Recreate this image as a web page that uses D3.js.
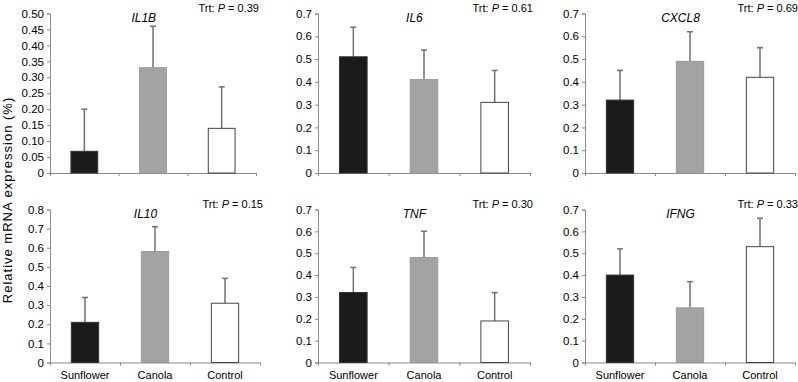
<!DOCTYPE html>
<html>
<head>
<meta charset="utf-8">
<script src="https://cdn.jsdelivr.net/npm/d3@7"></script>
<style>
  body { margin: 0; background: #fff; }
  text { font-family: "Liberation Sans", Arial, sans-serif; fill: #000; }
</style>
</head>
<body>
<svg id="chart" width="798" height="382"></svg>
<script>
// data
const treatments = ["Sunflower", "Canola", "Control"];
const genes = ["IL1B", "IL6", "CXCL8", "IL10", "TNF", "IFNG"];
const pValues = ["0.39", "0.61", "0.69", "0.15", "0.30", "0.33"];
const yMax = [0.5, 0.7, 0.7, 0.8, 0.7, 0.7];
const yStep = [0.05, 0.1, 0.1, 0.1, 0.1, 0.1];
const means = [
  [0.068, 0.33, 0.14],
  [0.51, 0.41, 0.31],
  [0.32, 0.49, 0.42],
  [0.21, 0.58, 0.31],
  [0.32, 0.48, 0.19],
  [0.40, 0.25, 0.53]
];
const upper = [
  [0.20, 0.46, 0.27],
  [0.64, 0.54, 0.45],
  [0.45, 0.62, 0.55],
  [0.34, 0.71, 0.44],
  [0.435, 0.60, 0.32],
  [0.52, 0.37, 0.66]
];

const fills = ["#1b1b1b", "#a3a3a3", "#ffffff"];
const strokes = ["#333", "#9a9a9a", "#444"];
const axisColor = "#8a8a8a";

// panel boxes
const cols = [[50, 256], [318, 530], [585, 795]];
const colsBottom = [[50, 260], [318, 530], [585, 795]];
const rows = [[13.5, 173], [209.5, 362.5]];

const svg = d3.select("#chart");

genes.forEach((gene, i) => {
  const r = Math.floor(i / 3), c = i % 3;
  const [x0, x1] = r === 0 ? cols[c] : colsBottom[c];
  const [yTop, yBot] = rows[r];
  const g = svg.append("g");

  const x = d3.scaleBand().domain(treatments).range([x0, x1]).paddingInner(0.61).paddingOuter(0.305);
  const y = d3.scaleLinear().domain([0, yMax[i]]).range([yBot, yTop]);

  const ticks = d3.range(0, yMax[i] + 1e-9, yStep[i]);
  const fmt = yStep[i] < 0.1 ? d3.format(".2f") : d3.format(".1f");

  // y axis
  const ya = g.append("g").attr("transform", "translate(" + x0 + ",0)")
    .call(d3.axisLeft(y).tickValues(ticks).tickSize(3).tickPadding(3)
      .tickFormat(d => d === 0 ? "0" : fmt(d)));
  ya.selectAll("path, line").attr("stroke", axisColor);
  ya.selectAll("text").style("font-size", "11.5px").attr("fill", "#000");

  // x axis with ticks between categories
  const xl = d3.scaleLinear().domain([0, 3]).range([x0, x1]);
  const xa = g.append("g").attr("transform", "translate(0," + yBot + ")")
    .call(d3.axisBottom(xl).tickValues([0, 1, 2, 3]).tickSize(3).tickSizeOuter(0).tickFormat(""));
  xa.selectAll("path, line").attr("stroke", axisColor);

  // category labels on the bottom row
  if (r === 1) {
    const xb = g.append("g").attr("transform", "translate(0," + yBot + ")")
      .call(d3.axisBottom(x).tickSize(0).tickPadding(9));
    xb.select(".domain").remove();
    xb.selectAll("text").style("font-size", "11px").attr("fill", "#000");
  }

  // error bars
  treatments.forEach((t, k) => {
    const cx = x(t) + x.bandwidth() / 2;
    g.append("line").attr("x1", cx).attr("x2", cx)
      .attr("y1", y(means[i][k])).attr("y2", y(upper[i][k]))
      .attr("stroke", "#707070").attr("stroke-width", 1.5);
    g.append("line").attr("x1", cx - 3).attr("x2", cx + 3)
      .attr("y1", y(upper[i][k])).attr("y2", y(upper[i][k]))
      .attr("stroke", "#707070").attr("stroke-width", 1.5);
  });

  // bars
  g.selectAll("rect.bar")
    .data(means[i])
    .enter()
    .append("rect")
      .attr("class", "bar")
      .attr("x", (d, k) => x(treatments[k]))
      .attr("width", x.bandwidth())
      .attr("y", d => y(d))
      .attr("height", d => yBot - y(d))
      .attr("fill", (d, k) => fills[k])
      .attr("stroke", (d, k) => strokes[k])
      .attr("stroke-width", 1);

  // gene name
  g.append("text")
    .attr("x", x0 + (x1 - x0) * 0.455)
    .attr("y", yTop + 8)
    .attr("text-anchor", "middle")
    .style("font-size", "12px")
    .style("font-style", "italic")
    .text(gene);

  // P value
  const pt = g.append("text")
    .attr("x", x1 + 3)
    .attr("y", yTop - 2)
    .attr("text-anchor", "end")
    .style("font-size", "11px");
  pt.append("tspan").text("Trt: ");
  pt.append("tspan").style("font-style", "italic").text("P");
  pt.append("tspan").text(" = " + pValues[i]);
});

// shared y label
svg.append("text")
  .attr("transform", "translate(12,200)rotate(-90)")
  .attr("text-anchor", "middle")
  .style("font-size", "13px")
  .style("letter-spacing", "1px")
  .text("Relative mRNA expression (%)");
</script>
</body>
</html>
